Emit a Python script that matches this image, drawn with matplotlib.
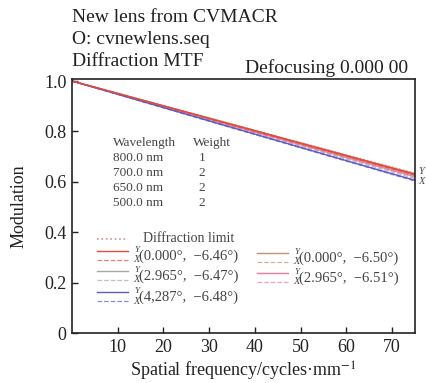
import matplotlib
matplotlib.use("Agg")
import matplotlib.pyplot as plt
from matplotlib.lines import Line2D

plt.rcParams['font.family'] = ['Liberation Serif', 'DejaVu Serif']
plt.rcParams['mathtext.fontset'] = 'stix'

# ---- data ----
freq = [0, 15, 30, 45, 60, 75]
diff_limit = [1.0, 0.927, 0.853, 0.780, 0.707, 0.634]
f1_y = [1.0, 0.926, 0.852, 0.778, 0.704, 0.630]
f1_x = [1.0, 0.925, 0.850, 0.776, 0.702, 0.627]
f2_y = [1.0, 0.924, 0.848, 0.772, 0.696, 0.620]
f2_x = [1.0, 0.922, 0.845, 0.768, 0.690, 0.613]
f3_y = [1.0, 0.921, 0.842, 0.763, 0.684, 0.606]
f3_x = [1.0, 0.920, 0.840, 0.761, 0.682, 0.603]
f4_y = [1.0, 0.926, 0.853, 0.779, 0.705, 0.632]
f4_x = [1.0, 0.925, 0.850, 0.776, 0.701, 0.627]
f5_y = [1.0, 0.925, 0.850, 0.775, 0.700, 0.625]
f5_x = [1.0, 0.923, 0.847, 0.771, 0.695, 0.619]

field_labels = ["(0.000°,  −6.46°)", "(2.965°,  −6.47°)", "(4,287°,  −6.48°)",
                "(0.000°,  −6.50°)", "(2.965°,  −6.51°)"]
wavelengths = ["800.0 nm", "700.0 nm", "650.0 nm", "500.0 nm"]
weights = ["1", "2", "2", "2"]
xticks = [10, 20, 30, 40, 50, 60, 70]
yticks = [0, 0.2, 0.4, 0.6, 0.8, 1.0]
yticklabels = ["0", "0.2", "0.4", "0.6", "0.8", "1.0"]

colors = ['#e8473a', '#a8a8a8', '#5a5ac8', '#c49070', '#f27aa8']
series = [(f1_y, f1_x), (f2_y, f2_x), (f3_y, f3_x), (f4_y, f4_x), (f5_y, f5_x)]

W, H = 427, 383
fig = plt.figure(figsize=(W / 100, H / 100), dpi=100)
ax = fig.add_axes([72 / W, 1 - 333 / H, (415 - 72) / W, (333 - 79) / H])

ax.plot(freq, diff_limit, linestyle=':', color='#d09090', lw=1.0)
order = [1, 4, 3, 2, 0]
for i in order:
    yv, xv = series[i]
    ax.plot(freq, xv, linestyle='--', color=colors[i], lw=0.9, alpha=0.8)
    ax.plot(freq, yv, linestyle='-', color=colors[i], lw=1.0)

ax.set_xlim(0, 75)
ax.set_ylim(0, 1.008)
ax.set_xticks(xticks)
ax.set_yticks(yticks)
ax.set_yticklabels(yticklabels)
ax.tick_params(direction='in', length=4, width=1, labelsize=13, colors='#222222', pad=4)
for s in ax.spines.values():
    s.set_linewidth(1.2)
    s.set_color('#222222')

ax.set_ylabel("Modulation", fontsize=13, color='#222222', labelpad=12)
ax.set_xlabel("Spatial frequency/cycles·mm$^{-1}$", fontsize=13, color='#222222', labelpad=3)

def fx(px):
    return px / W

def fy(py):
    return 1 - py / H

tc = '#222222'
fig.text(fx(72), fy(17), "New lens from CVMACR", fontsize=14, color=tc, va='center')
fig.text(fx(72), fy(40), "O: cvnewlens.seq", fontsize=14, color=tc, va='center')
fig.text(fx(72), fy(62), "Diffraction MTF", fontsize=14, color=tc, va='center')
fig.text(fx(408), fy(68), "Defocusing 0.000 00", fontsize=14, color=tc, va='center', ha='right')

fig.text(fx(418), fy(171), "Y", fontsize=7.5, style='italic', color='#444444', va='center')
fig.text(fx(418), fy(181), "X", fontsize=7.5, style='italic', color='#444444', va='center')

gc = '#444444'
fig.text(fx(113), fy(143), "Wavelength", fontsize=9.5, color=gc, va='center')
fig.text(fx(193), fy(143), "Weight", fontsize=9.5, color=gc, va='center')
for k, (wl, wt) in enumerate(zip(wavelengths, weights)):
    yy = 158 + k * 15
    fig.text(fx(113), fy(yy), wl, fontsize=9.5, color=gc, va='center')
    fig.text(fx(202), fy(yy), wt, fontsize=9.5, color=gc, va='center', ha='center')

fig.add_artist(Line2D([fx(97), fx(128)], [fy(239), fy(239)], linestyle=':', color='#d09090', lw=1.2))
fig.text(fx(143), fy(238), "Diffraction limit", fontsize=10, color=gc, va='center')

positions = [(97, 251), (97, 271), (97, 292), (257, 253), (257, 273)]
for i, (px, py) in enumerate(positions):
    fig.add_artist(Line2D([fx(px), fx(px + 31)], [fy(py), fy(py)], linestyle='-', color=colors[i], lw=1.0))
    fig.add_artist(Line2D([fx(px), fx(px + 31)], [fy(py + 9), fy(py + 9)], linestyle='--', color=colors[i], lw=0.9, alpha=0.7))
    fig.text(fx(px + 37), fy(py - 1), "Y", fontsize=6.5, style='italic', color=gc, va='center')
    fig.text(fx(px + 36), fy(py + 9), "X", fontsize=7.5, style='italic', color=gc, va='center')
    fig.text(fx(px + 42), fy(py + 5), field_labels[i], fontsize=10.5, color=gc, va='center')

fig.savefig("out.png", dpi=100)
